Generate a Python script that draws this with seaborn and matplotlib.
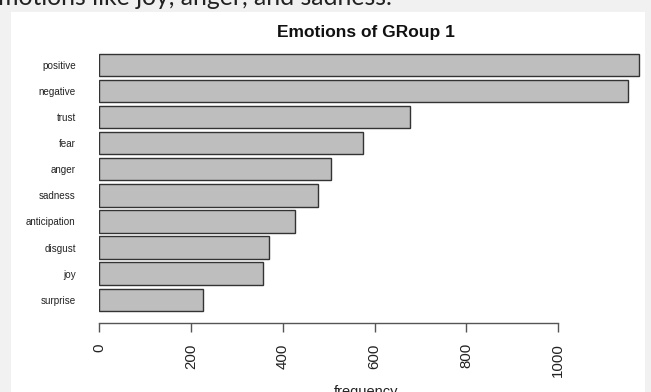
import matplotlib
matplotlib.use("Agg")
import matplotlib.pyplot as plt
import seaborn as sns
import pandas as pd
from matplotlib.patches import Rectangle

# Emotion word counts for group 1
emotions = ["positive", "negative", "trust", "fear", "anger", "sadness",
            "anticipation", "disgust", "joy", "surprise"]
counts = [1177, 1153, 678, 574, 504, 476, 427, 369, 357, 226]
x_ticks = [0, 200, 400, 600, 800, 1000]

df = pd.DataFrame({"emotion": emotions, "frequency": counts})

sns.set_theme(style="white")
plt.rcParams["font.family"] = ["Liberation Sans", "DejaVu Sans"]

W, H = 651, 392
fig = plt.figure(figsize=(W / 100, H / 100), dpi=100)
fig.patch.set_facecolor("#f1f1f1")

# white panel behind the plot
fig.patches.append(Rectangle((11 / W, 0), (645 - 11) / W, (H - 12) / H,
                             transform=fig.transFigure, facecolor="white",
                             edgecolor="none", zorder=-10))

# running text above the figure, clipped at the top
fig.text(392 / W, (H - 5) / H, "emotions like joy, anger, and sadness.",
         ha="right", va="baseline", fontsize=17.8, color="#222222",
         family=["Lato", "DejaVu Sans"])

left, right_px = 99.3, 649.9
top_px, bottom_px = 52.3, 323
ax = fig.add_axes([left / W, (H - bottom_px) / H,
                   (right_px - left) / W, (bottom_px - top_px) / H])
ax.set_facecolor("none")
ax.set_zorder(5)

sns.barplot(data=df, y="emotion", x="frequency", orient="h",
            color="#bebebe", saturation=1, width=0.85,
            edgecolor="#333333", linewidth=1.0, ax=ax)

ax.set_xlim(0, 1200)
ax.set_ylim(9.9, -0.5)

for s in ["top", "right", "left"]:
    ax.spines[s].set_visible(False)
ax.spines["bottom"].set_bounds(0, 1000)
ax.spines["bottom"].set_color("#555555")
ax.spines["bottom"].set_linewidth(1.0)

ax.set_xticks(x_ticks)
ax.set_xticklabels([str(t) for t in x_ticks], rotation=90, va="top")
ax.tick_params(axis="x", bottom=True, length=6.5, width=1.0, color="#555555",
               pad=8, labelsize=10.8, labelcolor="#222222")
ax.tick_params(axis="y", left=False, length=0, pad=17, labelsize=7.1,
               labelcolor="#222222")
ax.set_xlabel("")
ax.set_ylabel("")

fig.text(366 / W, (H - 33) / H, "Emotions of GRoup 1", ha="center",
         va="center", fontsize=12.5, fontweight="bold", color="#111111")
fig.text(366 / W, (H - 385) / H, "frequency", ha="center", va="top",
         fontsize=10.5, color="#222222")

fig.savefig("out.png", dpi=100, facecolor=fig.get_facecolor())
